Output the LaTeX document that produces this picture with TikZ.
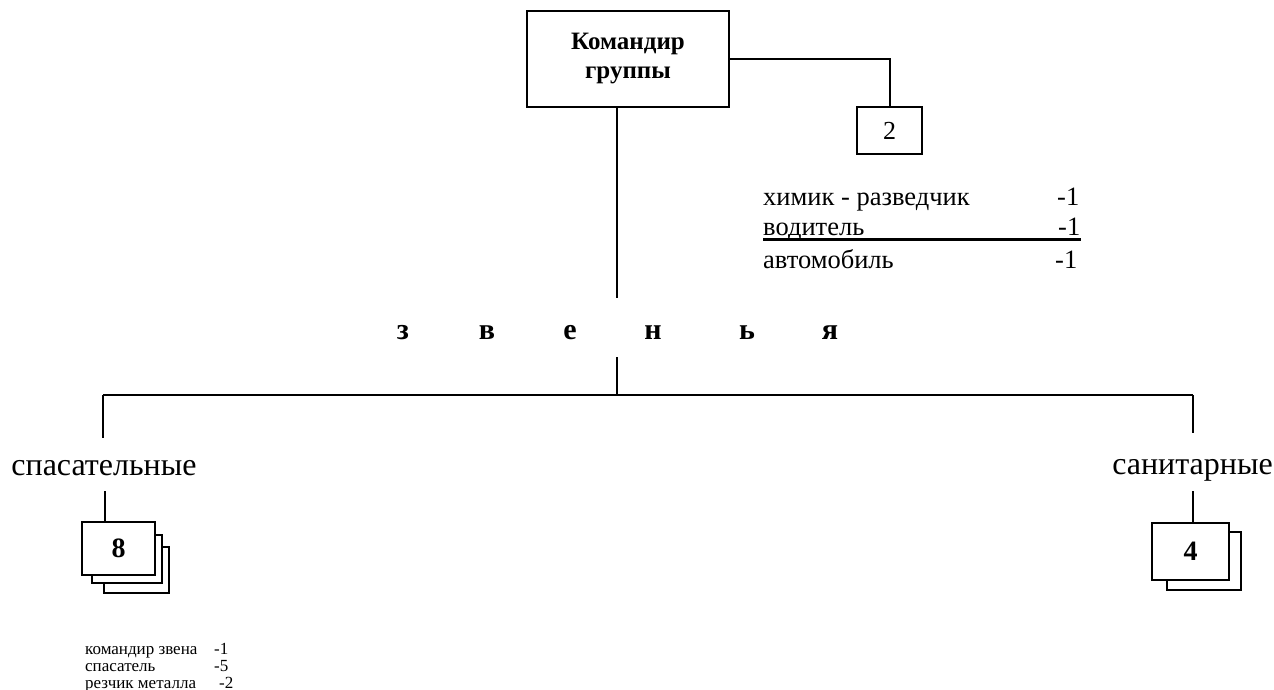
\documentclass[tikz,border=0pt]{standalone}
\usepackage{fontspec}
\setmainfont{Liberation Serif}
\usetikzlibrary{calc}
\tikzset{
	ln/.style={line width=2pt},
	bx/.style={draw, line width=2pt, fill=white, inner sep=0pt},
	zv/.style={font=\bfseries\fontsize{30}{32}\selectfont},
	grp/.style={font=\fontsize{32}{36}\selectfont, inner sep=0pt},
	lst/.style={anchor=base west, inner sep=0pt, font=\fontsize{26.5}{30}\selectfont},
	sml/.style={anchor=base west, inner sep=0pt, font=\fontsize{17}{20}\selectfont},
}

\begin{document}
\begin{tikzpicture}[x=1pt, y=-1pt]
		%%%%% START %%%%%
		\useasboundingbox (0, 0) rectangle (1274, 690);
		
		% commander and his crew
		\node[bx, minimum width=202pt, minimum height=96pt, align=center, font=\bfseries\fontsize{25}{29}\selectfont] (cmd) at (628, 59) {Командир\\группы};
		\node[bx, minimum width=65pt, minimum height=47pt, font=\fontsize{26}{30}\selectfont] (crew) at (889.5, 130.5) {2};
		\draw[ln] (cmd.east) -| (crew.north);
		
		\node[lst] (chem) at (763, 205) {химик - разведчик};
		\node[lst] (chemN) at (1057, 205) {-1};
		\node[lst] (drv) at (763, 235) {водитель};
		\node[lst] (drvN) at (1058, 235) {-1};
		\draw[line width=3pt] (763, 239.5) -- (1081, 239.5);
		\node[lst] (car) at (763, 268) {автомобиль};
		\node[lst] (carN) at (1055, 268) {-1};
		
		% trunk and the spaced word
		\coordinate (trTop) at (617, 298);
		\draw[ln] (cmd.south -| trTop) -- (trTop);
		\foreach \ch/\x [count=\i] in {з/403, в/487, е/570, н/653, ь/747, я/830}
			\node[zv] (zv\i) at (\x, 333) {\ch};
		
		\coordinate (trBot) at (617, 357);
		\coordinate (busL) at (103, 395);
		\coordinate (busR) at (1193, 395);
		\draw[ln] (trBot) -- (trBot |- busL);
		\draw[ln] (busL) -- (busR);
		
		% left branch
		\node[grp] (resc) at (104, 468) {спасательные};
		\draw[ln] (busL) -- (103, 438);
		\draw[ln, fill=white] (104, 547) rectangle (169, 593);
		\draw[ln, fill=white] (92, 535) rectangle (162, 583);
		\node[bx, minimum width=73pt, minimum height=53pt, font=\bfseries\fontsize{28}{30}\selectfont] (eight) at (118.5, 548.5) {8};
		\coordinate (rescLow) at (105, 491);
		\draw[ln] (rescLow) -- (rescLow |- eight.north);
		
		\node[sml] (lead) at (85, 654) {командир звена};
		\node[sml] (leadN) at (214, 654) {-1};
		\node[sml] (sav) at (85, 671) {спасатель};
		\node[sml] (savN) at (214, 671) {-5};
		\node[sml] (cut) at (85, 688) {резчик металла};
		\node[sml] (cutN) at (219, 688) {-2};
		
		% right branch
		\node[grp] (sanit) at (1192.5, 470) {санитарные};
		\draw[ln] (busR) -- (1193, 433);
		\draw[ln, fill=white] (1167, 532) rectangle (1241, 590);
		\node[bx, minimum width=77pt, minimum height=57pt, font=\bfseries\fontsize{28}{30}\selectfont] (four) at (1190.5, 551.5) {4};
		\coordinate (sanLow) at (1193, 491);
		\draw[ln] (sanLow) -- (sanLow |- four.north);
		%%%%% END %%%%%
\end{tikzpicture}
\end{document}
